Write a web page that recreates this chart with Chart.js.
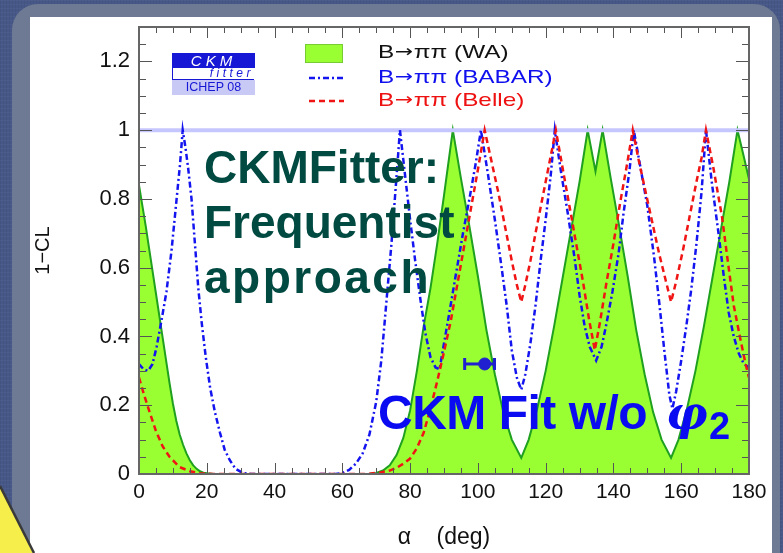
<!DOCTYPE html>
<html><head><meta charset="utf-8">
<script src="https://cdn.jsdelivr.net/npm/chart.js@4.4.1/dist/chart.umd.min.js"></script>
<style>
html,body{margin:0;padding:0;width:783px;height:553px;overflow:hidden;background:#475888;}
#slide{position:absolute;left:0;top:0;width:783px;height:553px;background:#475888;
 background-image:repeating-linear-gradient(90deg,rgba(0,0,0,0.05) 0 1px,transparent 1px 3px),repeating-linear-gradient(0deg,rgba(255,255,255,0.03) 0 1px,transparent 1px 4px);}
#band{position:absolute;left:12px;top:4px;width:768px;height:600px;background:#6e7993;border-radius:26px;}
#panel{position:absolute;left:30px;top:17px;width:742px;height:560px;background:#ffffff;}
#tri{position:absolute;left:0;top:470px;}
#c{position:absolute;left:0;top:0;}
.ov{position:absolute;white-space:nowrap;font-family:'Liberation Sans',Arial,sans-serif;}
#note1{left:204px;top:140px;font-size:46px;line-height:55px;font-weight:bold;color:#014a42;letter-spacing:0px;}
#note1 .w{letter-spacing:2.5px;}
#note2{left:378px;top:386px;font-size:48px;line-height:54px;font-weight:bold;color:#0b0bf2;letter-spacing:-0.5px;}
#note2 i{font-family:'DejaVu Serif',serif;font-weight:bold;font-size:46px;margin-left:6px;}
#note2 sub{font-size:38px;vertical-align:-10px;margin-left:2px;}
#logo1{left:172px;top:53px;width:83px;height:15px;background:#1717d6;color:#fff;font-size:15px;line-height:15px;font-style:italic;text-align:center;letter-spacing:4px;}
#logo2{left:172px;top:68px;width:81px;height:11px;background:#fff;border-left:1.5px solid #1717d6;border-bottom:1.5px solid #1717d6;color:#1717d6;font-size:12px;line-height:11px;font-style:italic;text-align:right;letter-spacing:3.5px;}
#logo3{left:172px;top:80px;width:83px;height:15px;background:#c9c9f6;color:#1717d6;font-size:12.5px;line-height:15px;text-align:center;}
</style></head>
<body>
<div id="slide"></div>
<div id="band"></div>
<div id="panel"></div>
<svg id="tri" width="40" height="83"><polygon points="0,17 33,83 0,83" fill="#f6ee4a"/><line x1="0" y1="16" x2="34" y2="83" stroke="#3a3a3a" stroke-width="2.5"/></svg>
<canvas id="c" width="783" height="553"></canvas>
<div class="ov" id="logo1">CKM</div>
<div class="ov" id="logo2">fitter</div>
<div class="ov" id="logo3">ICHEP 08</div>
<div class="ov" id="note1">CKMFitter:<br>Frequentist<br><span class="w">approach</span></div>
<div class="ov" id="note2">CKM Fit w/o <i>φ</i><sub>2</sub></div>
<script>
// ---- data (alpha in degrees, 1-CL) ----
const xTicks = [0,20,40,60,80,100,120,140,160,180];
const yTicks = [0,0.2,0.4,0.6,0.8,1,1.2];

const waAlpha = [0,1,2,3,4,5,6,7,8,9,10,11,12,13,14,15,16,17,18,19,20,22,66,68,70,72,74,76,78,80,82,84,86,88,90,92.6,95,97.5,100,102.5,105,107.5,110,112.8,115,117.5,120,122.5,125,127.5,130,132.4,134.7,136.8,139.2,141.7,144.2,146.7,149.2,151.7,154.2,157,159.2,161.7,164.2,166.7,169.2,171.7,174.2,176.6,178.3,180];
const waCL    = [0.84,0.78,0.72,0.655,0.59,0.525,0.46,0.395,0.33,0.265,0.205,0.155,0.115,0.085,0.06,0.04,0.025,0.015,0.008,0.004,0.002,0,0,0.001,0.003,0.01,0.025,0.055,0.105,0.185,0.30,0.43,0.54,0.67,0.81,1.0,0.86,0.72,0.575,0.42,0.29,0.18,0.10,0.047,0.10,0.19,0.30,0.43,0.57,0.71,0.85,1.0,0.88,1.0,0.86,0.72,0.575,0.42,0.29,0.18,0.10,0.047,0.10,0.19,0.30,0.43,0.57,0.71,0.85,1.0,0.93,0.857];

const babarAlpha = [0,1.3,2.7,4,5.2,6.7,8.1,9.6,11.1,12.1,12.9,13.7,14.5,15.5,16.5,17.5,18.5,19.7,21,22.4,23.9,25.3,26.8,28.5,30.6,33,58,60,62,64,66,68,70,71.5,73,74.5,75.8,77,78.5,80,81.5,83,84.5,86,87.5,88.7,90,91.6,93.5,95.6,97.5,99.3,100.9,103,105,107,108.5,110,111.5,112.8,114,115.5,117,118.5,120,121.5,122.7,124.5,126.5,128.5,130,131.5,133,134.9,136.5,138,139.7,141.5,143,144.7,146,148,150,152,153.5,155,156.5,157.4,158.5,160,161.5,163,164.5,166,167.3,169,171,172.5,174,175.5,177,178.5,180];
const babarCL    = [0.32,0.305,0.30,0.32,0.37,0.45,0.53,0.65,0.80,0.90,1.0,0.95,0.89,0.80,0.67,0.54,0.44,0.34,0.25,0.18,0.12,0.07,0.04,0.015,0.003,0,0,0.003,0.012,0.03,0.06,0.115,0.21,0.33,0.50,0.67,0.84,1.0,0.87,0.74,0.62,0.51,0.41,0.34,0.31,0.305,0.38,0.47,0.58,0.70,0.80,0.90,1.0,0.87,0.74,0.60,0.49,0.36,0.28,0.245,0.29,0.38,0.49,0.62,0.74,0.87,1.0,0.88,0.76,0.63,0.52,0.43,0.37,0.33,0.37,0.44,0.53,0.64,0.76,0.88,1.0,0.89,0.78,0.63,0.50,0.36,0.23,0.19,0.24,0.33,0.43,0.54,0.67,0.82,1.0,0.85,0.70,0.58,0.47,0.40,0.35,0.32,0.31];

const belleAlpha = [0,1.5,3.2,5,7,9,12,15,18,22,66,68,71,74,76,78,80,82,84,86,88,90,92,94,96,98,100,102,104,106,108,110,111.5,112.8,114,115.5,117,119,121,123,125,127,129,131,132.8,134.5,136,138,140,142,144,145.7,147.5,149.5,151.5,153.5,155.5,157,158.5,160.5,162.5,164.5,166,167.3,169.5,172,174,175.5,177.5,179,180];
const belleCL    = [0.28,0.23,0.178,0.125,0.08,0.05,0.02,0.008,0.002,0,0,0.001,0.004,0.01,0.018,0.03,0.045,0.075,0.12,0.19,0.27,0.355,0.445,0.555,0.665,0.775,0.885,1.0,0.91,0.82,0.72,0.62,0.55,0.50,0.55,0.62,0.70,0.80,0.90,1.0,0.89,0.78,0.67,0.56,0.45,0.36,0.44,0.56,0.67,0.79,0.90,1.0,0.91,0.82,0.73,0.64,0.56,0.50,0.56,0.65,0.75,0.85,0.92,1.0,0.89,0.75,0.60,0.49,0.39,0.32,0.28];

const refLevel = 1.0;
const fitAlpha = 102;      // CKM fit without phi2
const fitLow = 96.1, fitHigh = 104.9;
const fitY = 0.32;

const seriesNames = ['(WA)','(BABAR)','(Belle)'];
const seriesLabels = seriesNames.map(n=>'B\u2192\u03c0\u03c0 '+n);

const pts = (a,v)=>a.map((x,i)=>({x:x,y:v[i]}));

const framePlugin = {
  id:'frame',
  afterDatasetsDraw(chart){
    const {ctx, chartArea:ca, scales:{x,y}} = chart;
    ctx.save();
    ctx.strokeStyle='#555'; ctx.lineWidth=1;
    ctx.beginPath();
    for(let v=0; v<=180; v+=5){
      const px=Math.round(x.getPixelForValue(v))+0.5;
      const L = v%20===0 ? 11 : 6;
      ctx.moveTo(px,ca.bottom); ctx.lineTo(px,ca.bottom-L);
      ctx.moveTo(px,ca.top); ctx.lineTo(px,ca.top+L);
    }
    for(let k=0; k<=26; k++){
      const v=k*0.05;
      const py=Math.round(y.getPixelForValue(v))+0.5;
      const L = k%4===0 ? 13 : 7;
      ctx.moveTo(ca.left,py); ctx.lineTo(ca.left+L,py);
      ctx.moveTo(ca.right,py); ctx.lineTo(ca.right-L,py);
    }
    ctx.stroke();
    ctx.strokeStyle='#666'; ctx.lineWidth=2;
    ctx.strokeRect(ca.left,ca.top,ca.right-ca.left,ca.bottom-ca.top);
    ctx.restore();
  }
};

function drawLegendText(ctx, x, y, name, color){
  ctx.save();
  ctx.translate(x,y); ctx.scale(1.28,1);
  ctx.fillStyle=color; ctx.textBaseline='middle';
  const base='19px "Liberation Sans", Arial, sans-serif';
  let cx=0;
  ctx.font=base; ctx.fillText('B',cx,0); cx+=ctx.measureText('B').width+0.5;
  ctx.font='17px "DejaVu Sans", sans-serif'; ctx.fillText('\u2192',cx,0); cx+=ctx.measureText('\u2192').width+0.5;
  ctx.font=base; ctx.fillText('\u03c0\u03c0 '+name,cx,0);
  ctx.restore();
}

const legendPlugin = {
  id:'ownLegend',
  afterDraw(chart){
    const ctx=chart.ctx; const ds=chart.data.datasets;
    ctx.save();
    const rows=[{y:53,d:ds[0]},{y:78,d:ds[2]},{y:101,d:ds[3]}];
    rows.forEach((r,i)=>{
      if(i===0){
        ctx.fillStyle=r.d.backgroundColor; ctx.fillRect(305,44,37,18);
        ctx.strokeStyle='#77cc33'; ctx.lineWidth=1; ctx.strokeRect(305.5,44.5,37,18);
      } else {
        ctx.strokeStyle=r.d.borderColor; ctx.lineWidth=2.5; ctx.setLineDash(r.d.borderDash);
        ctx.beginPath(); ctx.moveTo(309,r.y); ctx.lineTo(344,r.y); ctx.stroke(); ctx.setLineDash([]);
      }
      drawLegendText(ctx, 378, r.y, seriesNames[i], i===0 ? '#111' : (i===1 ? '#1010ee' : '#ee1111'));
    });
    ctx.restore();
  }
};

new Chart(document.getElementById('c'), {
  type:'line',
  data:{datasets:[
    {label:seriesLabels[0], data:pts(waAlpha,waCL), borderColor:'#1fa01f', borderWidth:2, backgroundColor:'#99ff33', fill:'origin', order:5},
    {label:'1-CL = 1', data:[{x:0,y:refLevel},{x:180,y:refLevel}], borderColor:'#c6c6ff', borderWidth:4, fill:false, order:4},
    {label:seriesLabels[1], data:pts(babarAlpha,babarCL), borderColor:'#1414f0', borderWidth:2.5, borderDash:[6,3,2,3], fill:false, order:3},
    {label:seriesLabels[2], data:pts(belleAlpha,belleCL), borderColor:'#f01414', borderWidth:2.5, borderDash:[6,4], fill:false, order:2},
    {label:'fit range', data:[{x:fitLow,y:fitY},{x:fitHigh,y:fitY}], borderColor:'#2020d0', borderWidth:3, fill:false,
      pointStyle:'line', rotation:90, pointRadius:6, pointBorderWidth:3, pointBorderColor:'#2020d0', order:1},
    {label:'fit', data:[{x:fitAlpha,y:fitY}], showLine:false, pointStyle:'circle', pointRadius:6, backgroundColor:'#2020d0', borderColor:'#2020d0', order:0}
  ]},
  options:{
    responsive:false, animation:false, devicePixelRatio:1,
    layout:{padding:{left:0,top:27,right:34,bottom:0}},
    elements:{line:{tension:0}, point:{radius:0}},
    plugins:{legend:{display:false}, tooltip:{enabled:false}},
    scales:{
      x:{type:'linear', min:0, max:180,
        afterBuildTicks:s=>{s.ticks=xTicks.map(v=>({value:v}));},
        afterFit:s=>{s.height=79;},
        grid:{display:false, drawTicks:false}, border:{display:false},
        ticks:{padding:6, color:'#111', autoSkip:false, maxRotation:0, font:{family:'Liberation Sans', size:21}, callback:v=>String(v)},
        title:{display:true, text:'\u03b1\u00a0\u00a0\u00a0\u00a0(deg)', color:'#111', font:{family:'Liberation Sans', size:23}, padding:{top:0,bottom:2}}
      },
      y:{type:'linear', min:0, max:1.3,
        afterBuildTicks:s=>{s.ticks=yTicks.map(v=>({value:v}));},
        afterFit:s=>{s.width=139;},
        grid:{display:false, drawTicks:false}, border:{display:false},
        ticks:{padding:9, color:'#111', font:{family:'Liberation Sans', size:22}, callback:v=>(v===0?'0':(Math.abs(v-1)<1e-9?'1':v.toFixed(1)))},
        title:{display:true, text:'1\u2212CL', color:'#111', font:{family:'Liberation Sans', size:20}, padding:{top:31,bottom:0}}
      }
    }
  },
  plugins:[framePlugin, legendPlugin]
});
</script>
</body></html>
